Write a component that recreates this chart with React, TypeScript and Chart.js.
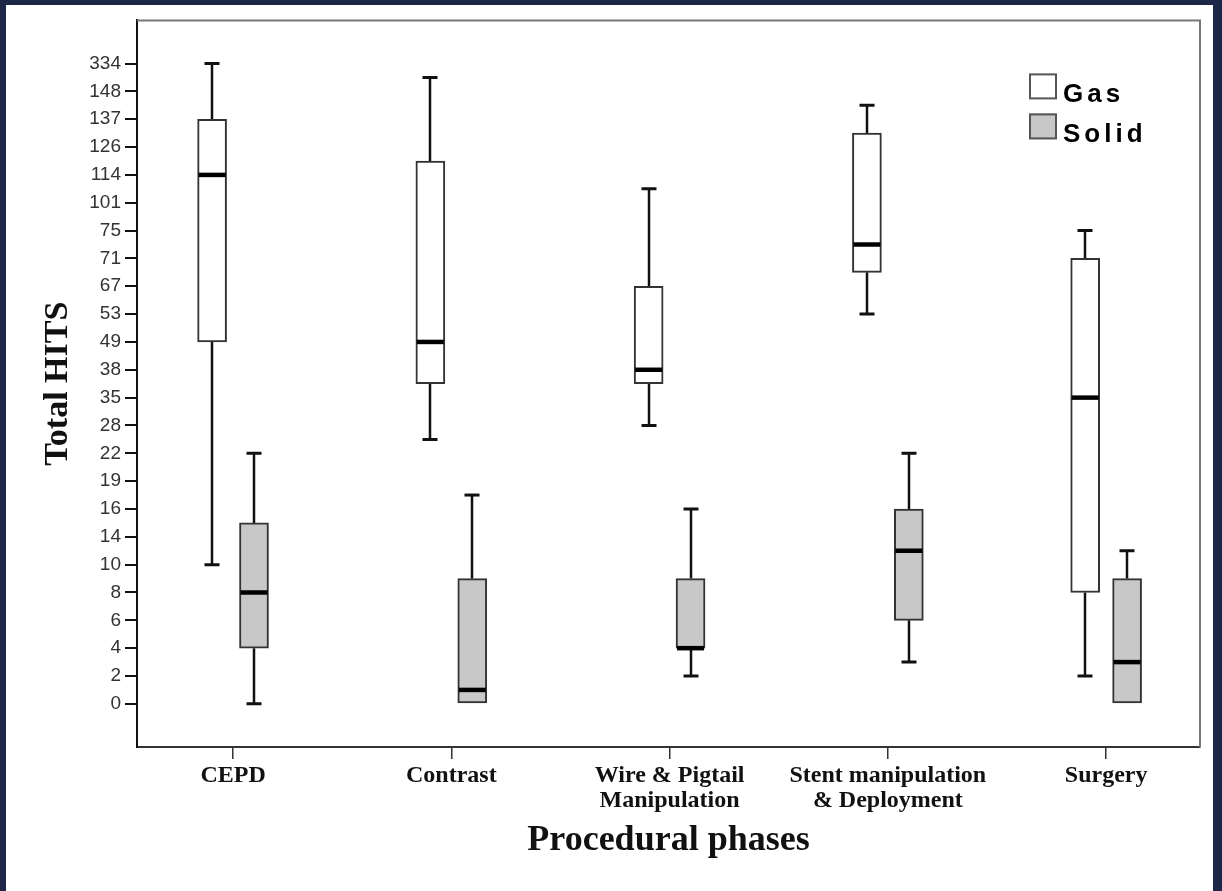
import React, { useEffect, useRef } from 'react';
import { Chart, registerables } from 'chart.js';

Chart.register(...registerables);

// ---- data (y values are positions on the ordinal "Total HITS" axis) ----
const categories: (string | string[])[] = [
  'CEPD',
  'Contrast',
  ['Wire & Pigtail', 'Manipulation'],
  ['Stent manipulation', '& Deployment'],
  'Surgery',
];
const yTickLabels = [
  '0', '2', '4', '6', '8', '10', '14', '16', '19', '22', '28', '35',
  '38', '49', '53', '67', '71', '75', '101', '114', '126', '137', '148', '334',
];
const seriesNames = ['Gas', 'Solid'];

const gasMin = [5, 9.5, 10, 14, 1];
const gasQ1 = [13, 11.5, 11.5, 15.5, 4];
const gasMedian = [19, 13, 12, 16.5, 11];
const gasQ3 = [21, 19.5, 15, 20.5, 16];
const gasMax = [23, 22.5, 18.5, 21.5, 17];

const solidMin = [0, 0, 1, 1.5, 0];
const solidQ1 = [2, 0, 2, 3, 0];
const solidMedian = [4, 0.5, 2, 5.5, 1.5];
const solidQ3 = [6.5, 4.5, 4.5, 7, 4.5];
const solidMax = [9, 7.5, 7, 9, 5.5];

// ---- styles ----
const GROUP_OFFSET = 0.096;
const BOX_WIDTH = 29;
const CAP_HALF = 7.5;
const SERIF = '"Liberation Serif", "Times New Roman", Times, serif';
const SANS = '"Liberation Sans", Arial, Helvetica, sans-serif';
const fills = ['#ffffff', '#c8c8c8'];

type Stats = { min: number[]; q1: number[]; med: number[]; q3: number[]; max: number[] };
const stats: Stats[] = [
  { min: gasMin, q1: gasQ1, med: gasMedian, q3: gasQ3, max: gasMax },
  { min: solidMin, q1: solidQ1, med: solidMedian, q3: solidQ3, max: solidMax },
];

const boxPlugin = {
  id: 'boxExtras',
  beforeDatasetsDraw(chart: any) {
    const { ctx } = chart;
    const y = chart.scales.y;
    chart.data.datasets.forEach((_ds: any, di: number) => {
      const meta = chart.getDatasetMeta(di);
      const s = stats[di];
      meta.data.forEach((bar: any, i: number) => {
        const x = Math.round(bar.x);
        ctx.save();
        ctx.strokeStyle = '#111';
        ctx.lineWidth = 2.5;
        const pMax = y.getPixelForValue(s.max[i]);
        const pQ3 = y.getPixelForValue(s.q3[i]);
        const pQ1 = y.getPixelForValue(s.q1[i]);
        const pMin = y.getPixelForValue(s.min[i]);
        ctx.beginPath();
        ctx.moveTo(x, pQ3);
        ctx.lineTo(x, pMax);
        ctx.moveTo(x, pQ1);
        ctx.lineTo(x, pMin);
        ctx.stroke();
        ctx.lineWidth = 3;
        ctx.beginPath();
        ctx.moveTo(x - CAP_HALF, pMax);
        ctx.lineTo(x + CAP_HALF, pMax);
        if (s.min[i] < s.q1[i]) {
          ctx.moveTo(x - CAP_HALF, pMin);
          ctx.lineTo(x + CAP_HALF, pMin);
        }
        ctx.stroke();
        ctx.restore();
      });
    });
  },
  afterDatasetsDraw(chart: any) {
    const { ctx } = chart;
    const y = chart.scales.y;
    chart.data.datasets.forEach((_ds: any, di: number) => {
      const meta = chart.getDatasetMeta(di);
      const s = stats[di];
      meta.data.forEach((bar: any, i: number) => {
        const half = bar.width / 2;
        const p = y.getPixelForValue(s.med[i]);
        ctx.save();
        ctx.strokeStyle = '#000';
        ctx.lineWidth = 4.5;
        ctx.beginPath();
        ctx.moveTo(bar.x - half + 1, p);
        ctx.lineTo(bar.x + half - 1, p);
        ctx.stroke();
        ctx.restore();
      });
    });
  },
  afterDraw(chart: any) {
    const { ctx, chartArea } = chart;
    ctx.save();
    // top and right frame lines
    ctx.strokeStyle = '#777';
    ctx.lineWidth = 2;
    ctx.beginPath();
    ctx.moveTo(chartArea.left, chartArea.top);
    ctx.lineTo(chartArea.right, chartArea.top);
    ctx.lineTo(chartArea.right, chartArea.bottom);
    ctx.stroke();
    // legend
    const lx = chartArea.right - 171;
    const ly = chartArea.top + 53;
    ctx.font = `bold 26px ${SANS}`;
    (ctx as any).letterSpacing = '4px';
    ctx.textBaseline = 'alphabetic';
    ctx.textAlign = 'left';
    seriesNames.forEach((name, i) => {
      const top = ly + i * 40;
      ctx.fillStyle = fills[i];
      ctx.fillRect(lx, top, 28, 26);
      ctx.strokeStyle = '#555';
      ctx.lineWidth = 2;
      ctx.strokeRect(lx + 1, top + 1, 26, 24);
      ctx.fillStyle = '#000';
      ctx.fillText(name, lx + 34, top + 29);
    });
    ctx.restore();
  },
};

export default function App() {
  const ref = useRef<HTMLCanvasElement | null>(null);

  useEffect(() => {
    if (!ref.current) return;
    const datasets = stats.map((s, di) => ({
      label: seriesNames[di],
      data: categories.map((_, i) => ({
        x: i + (di === 0 ? -GROUP_OFFSET : GROUP_OFFSET),
        y: [s.q1[i], s.q3[i]],
      })),
      backgroundColor: fills[di],
      borderColor: '#333',
      borderWidth: 2,
      borderSkipped: false,
      barThickness: BOX_WIDTH,
      grouped: false,
    }));

    const chart = new Chart(ref.current, {
      type: 'bar',
      data: { datasets: datasets as any },
      options: {
        responsive: false,
        animation: false,
        devicePixelRatio: 1,
        layout: { padding: { top: 14, right: 13, left: 0, bottom: 0 } },
        plugins: { legend: { display: false }, tooltip: { enabled: false } },
        scales: {
          x: {
            type: 'linear',
            min: -0.44,
            max: 4.43,
            offset: false,
            afterBuildTicks: (s: any) => {
              s.ticks = categories.map((_, i) => ({ value: i }));
            },
            afterFit: (s: any) => {
              s.height = 144;
            },
            ticks: {
              callback: (v: any) => categories[v as number] ?? '',
              autoSkip: false,
              maxRotation: 0,
              padding: 4,
              color: '#111',
              font: { family: SERIF, size: 24, weight: 'bold', lineHeight: '25px' as any },
            },
            grid: {
              display: true,
              offset: false,
              drawOnChartArea: false,
              drawTicks: true,
              tickLength: 12,
              color: '#333',
              lineWidth: 1.5,
            },
            border: { display: true, color: '#333', width: 2 },
            title: {
              display: true,
              text: 'Procedural phases',
              color: '#111',
              font: { family: SERIF, size: 36, weight: 'bold' },
              padding: { top: 0, bottom: 29 },
            },
          },
          y: {
            type: 'linear',
            min: -1.55,
            max: 24.55,
            afterBuildTicks: (s: any) => {
              s.ticks = yTickLabels.map((_, i) => ({ value: i }));
            },
            afterFit: (s: any) => {
              s.width = 131;
            },
            ticks: {
              callback: (v: any) => yTickLabels[v as number] ?? '',
              autoSkip: false,
              padding: 4,
              color: '#333',
              font: { family: SANS, size: 19 },
            },
            grid: {
              display: true,
              drawOnChartArea: false,
              drawTicks: true,
              tickLength: 12,
              color: '#111',
              lineWidth: 2,
            },
            border: { display: true, color: '#111', width: 2 },
            title: {
              display: true,
              text: 'Total HITS',
              color: '#111',
              font: { family: SERIF, size: 34, weight: 'bold' },
              padding: { top: 32, bottom: 0 },
            },
          },
        },
      },
      plugins: [boxPlugin],
    });
    return () => chart.destroy();
  }, []);

  return (
    <div
      style={{
        position: 'fixed',
        left: 0,
        top: 0,
        width: 1222,
        height: 891,
        background: '#1f2748',
        overflow: 'hidden',
      }}
    >
      <div
        style={{
          position: 'absolute',
          left: 6,
          top: 5,
          width: 1207,
          height: 886,
          background: '#ffffff',
        }}
      >
        <canvas
          ref={ref}
          width={1207}
          height={886}
          style={{ display: 'block', width: 1207, height: 886 }}
        />
      </div>
    </div>
  );
}
